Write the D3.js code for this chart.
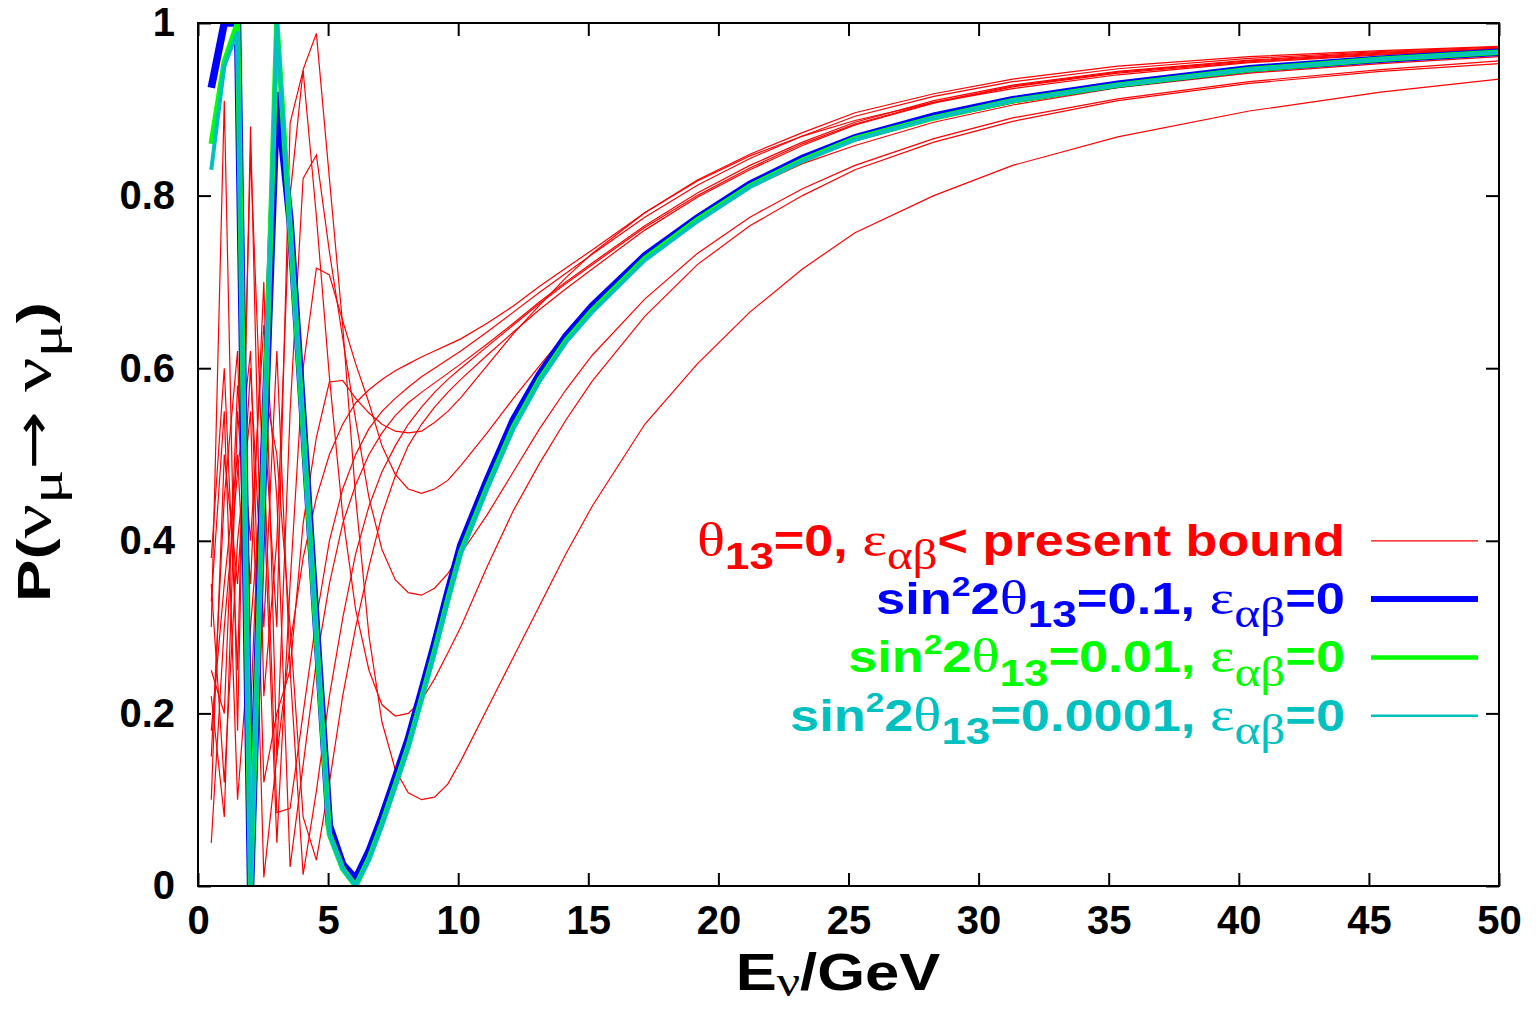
<!DOCTYPE html>
<html>
<head>
<meta charset="utf-8">
<script src="https://cdn.jsdelivr.net/npm/d3@7"></script>
<style>
    body { margin: 0; background: #fff; }
    svg { display: block; }
    text { font-family: "Liberation Sans", Arial, sans-serif; font-weight: bold; white-space: pre; }
    .greek { font-family: "Liberation Serif", "DejaVu Serif", serif; font-weight: normal; }
    .arrow { font-family: "DejaVu Sans", sans-serif; font-weight: normal; }
</style>
</head>
<body>
<div id="chart"></div>
<script>
// neutrino energy grid (GeV) shared by all curves
const energy = [0.51, 1.01, 1.52, 2.02, 2.53, 3.03, 3.54, 4.04, 4.55, 5.05, 5.56, 6.06,
    6.57, 7.07, 7.58, 8.08, 8.59, 9.09, 9.60, 10.10, 11.11, 12.12, 13.13, 14.14, 15.15,
    17.17, 19.19, 21.21, 23.23, 25.25, 28.28, 31.31, 35.35, 40.40, 45.45, 50.00];

// standard oscillation, eps = 0
const theta01 = [0.925, 1.0, 1.0, 0.0, 0.5, 0.92, 0.77, 0.54, 0.30, 0.07, 0.025, 0.008,
    0.04, 0.08, 0.125, 0.17, 0.225, 0.28, 0.34, 0.395, 0.47, 0.54, 0.593, 0.637, 0.672,
    0.73, 0.774, 0.813, 0.843, 0.867, 0.892, 0.911, 0.929, 0.947, 0.958, 0.966];
const theta001 = [0.86, 0.955, 1.0, 0.0, 0.5, 1.0, 0.76, 0.53, 0.29, 0.06, 0.02, 0.0,
    0.032, 0.072, 0.117, 0.162, 0.217, 0.272, 0.332, 0.387, 0.462, 0.532, 0.587, 0.632, 0.667,
    0.727, 0.772, 0.811, 0.841, 0.866, 0.89, 0.91, 0.928, 0.946, 0.958, 0.966];
const theta00001 = [0.83, 0.95, 0.99, 0.0, 0.5, 1.0, 0.76, 0.53, 0.29, 0.06, 0.02, 0.0,
    0.03, 0.07, 0.115, 0.16, 0.215, 0.27, 0.33, 0.385, 0.46, 0.53, 0.585, 0.63, 0.665,
    0.725, 0.77, 0.81, 0.84, 0.865, 0.89, 0.91, 0.928, 0.946, 0.958, 0.966];

// theta13 = 0, eps below present bound (red family)
const nsiA = [0.30, 0.91, 0.18, 0.88, 0.22, 0.40, 0.80, 0.946, 0.988, 0.82, 0.65, 0.45,
    0.29, 0.19, 0.135, 0.108, 0.10, 0.103, 0.118, 0.145, 0.205, 0.265, 0.325, 0.385, 0.44,
    0.535, 0.605, 0.665, 0.715, 0.757, 0.80, 0.835, 0.868, 0.898, 0.92, 0.935];
const nsiB = [0.15, 0.45, 0.62, 0.10, 0.55, 0.30, 0.884, 0.945, 0.776, 0.59, 0.43, 0.32,
    0.25, 0.21, 0.197, 0.20, 0.215, 0.24, 0.27, 0.30, 0.37, 0.435, 0.49, 0.54, 0.585,
    0.66, 0.72, 0.765, 0.80, 0.83, 0.862, 0.886, 0.91, 0.93, 0.944, 0.953];
const nsiC = [0.22, 0.08, 0.55, 0.35, 0.70, 0.15, 0.55, 0.82, 0.847, 0.735, 0.635, 0.54,
    0.45, 0.39, 0.355, 0.34, 0.337, 0.345, 0.362, 0.385, 0.43, 0.48, 0.53, 0.575, 0.615,
    0.68, 0.733, 0.775, 0.808, 0.835, 0.866, 0.89, 0.912, 0.932, 0.946, 0.956];
const nsiD = [0.38, 0.60, 0.25, 0.85, 0.45, 0.05, 0.35, 0.60, 0.716, 0.708, 0.655, 0.605,
    0.56, 0.51, 0.477, 0.46, 0.455, 0.46, 0.47, 0.487, 0.525, 0.565, 0.603, 0.64, 0.673,
    0.73, 0.774, 0.809, 0.837, 0.858, 0.885, 0.905, 0.925, 0.942, 0.953, 0.961];
const nsiE = [0.05, 0.30, 0.48, 0.62, 0.12, 0.20, 0.25, 0.42, 0.52, 0.584, 0.586, 0.565,
    0.548, 0.535, 0.527, 0.525, 0.527, 0.537, 0.55, 0.566, 0.603, 0.64, 0.673, 0.705, 0.733,
    0.78, 0.817, 0.846, 0.869, 0.887, 0.908, 0.924, 0.94, 0.954, 0.963, 0.97];
const nsiF = [0.25, 0.20, 0.58, 0.40, 0.65, 0.45, 0.022, 0.14, 0.26, 0.35, 0.42, 0.465,
    0.50, 0.525, 0.545, 0.56, 0.572, 0.583, 0.594, 0.605, 0.628, 0.652, 0.677, 0.70, 0.722,
    0.765, 0.803, 0.835, 0.862, 0.885, 0.91, 0.928, 0.944, 0.957, 0.966, 0.971];
const nsiG = [0.10, 0.50, 0.35, 0.60, 0.30, 0.62, 0.25, 0.013, 0.11, 0.22, 0.31, 0.385,
    0.44, 0.48, 0.51, 0.535, 0.555, 0.572, 0.587, 0.60, 0.625, 0.65, 0.675, 0.698, 0.72,
    0.763, 0.80, 0.832, 0.86, 0.883, 0.908, 0.927, 0.943, 0.956, 0.965, 0.97];
const nsiH = [0.33, 0.55, 0.10, 0.30, 0.50, 0.085, 0.09, 0.20, 0.31, 0.40, 0.46, 0.50,
    0.53, 0.55, 0.565, 0.578, 0.59, 0.60, 0.61, 0.62, 0.642, 0.665, 0.688, 0.71, 0.732,
    0.775, 0.812, 0.843, 0.869, 0.892, 0.915, 0.932, 0.947, 0.959, 0.967, 0.972];
const nsiI = [0.18, 0.35, 0.50, 0.20, 0.58, 0.50, 0.30, 0.08, 0.03, 0.12, 0.22, 0.30,
    0.37, 0.43, 0.475, 0.51, 0.535, 0.555, 0.572, 0.587, 0.615, 0.642, 0.668, 0.692, 0.715,
    0.76, 0.798, 0.83, 0.858, 0.882, 0.907, 0.926, 0.942, 0.955, 0.964, 0.969];
const nsiJ = [0.35, 0.12, 0.40, 0.55, 0.01, 0.15, 0.28, 0.38, 0.45, 0.50, 0.535, 0.56,
    0.575, 0.587, 0.597, 0.605, 0.613, 0.62, 0.627, 0.634, 0.652, 0.672, 0.695, 0.716, 0.737,
    0.78, 0.818, 0.848, 0.873, 0.896, 0.918, 0.935, 0.95, 0.961, 0.968, 0.973];

const xTicks = [0, 5, 10, 15, 20, 25, 30, 35, 40, 45, 50];
const yTicks = [0, 0.2, 0.4, 0.6, 0.8, 1];

const W = 1540, H = 1009;
let margin = { top: 23, right: 41, bottom: 123, left: 198 },
    width = W - margin.left - margin.right,
    height = H - margin.top - margin.bottom;

let svg = d3.select('#chart').append('svg').attr('width', W).attr('height', H);
let g = svg.append('g').attr('transform', 'translate(' + margin.left + ',' + margin.top + ')');

let x = d3.scaleLinear().domain([0, 50]).range([0, width]);
let y = d3.scaleLinear().domain([0, 1]).range([height, 0]);

svg.append('defs').append('clipPath').attr('id', 'plotclip')
    .append('rect').attr('width', width).attr('height', height);

let line = d3.line().x((d) => x(d[0])).y((d) => y(d[1]));
let toPoints = (vals) => vals.map((v, i) => [energy[i], v]);

const red = '#ff0000', blue = '#0000ff', green = '#00ff00', cyan = '#00c0c0';
let series = [nsiA, nsiB, nsiC, nsiD, nsiE, nsiF, nsiG, nsiH, nsiI, nsiJ]
    .map((vals) => ({ vals: vals, color: red, w: 1.2 }))
    .concat([
        { vals: theta01, color: blue, w: 7.5 },
        { vals: theta001, color: green, w: 5.5 },
        { vals: theta00001, color: cyan, w: 4 }
    ]);

g.append('g').attr('clip-path', 'url(#plotclip)').selectAll('path').data(series).enter()
    .append('path')
    .attr('d', (d) => line(toPoints(d.vals)))
    .attr('fill', 'none')
    .attr('stroke', (d) => d.color)
    .attr('stroke-width', (d) => d.w)
    .attr('stroke-linejoin', 'miter');

// axes, ticks pointing inwards on all four sides
let fontTick = 40;
let xAxis = d3.axisBottom(x).tickValues(xTicks).tickSizeInner(-13).tickSizeOuter(0).tickPadding(20);
let yAxis = d3.axisLeft(y).tickValues(yTicks).tickSizeInner(-13).tickSizeOuter(0).tickPadding(23)
    .tickFormat((d) => d);
let gx = g.append('g').attr('transform', 'translate(0,' + height + ')').call(xAxis);
let gy = g.append('g').call(yAxis);
g.append('g').call(d3.axisTop(x).tickValues(xTicks).tickSizeInner(-13).tickSizeOuter(0).tickFormat(''));
g.append('g').attr('transform', 'translate(' + width + ',0)')
    .call(d3.axisRight(y).tickValues(yTicks).tickSizeInner(-13).tickSizeOuter(0).tickFormat(''));
g.selectAll('.domain').remove();
g.selectAll('.tick line').attr('stroke', '#000').attr('stroke-width', 2);
[gx, gy].forEach((ax) => {
    ax.attr('font-family', null).attr('font-size', null);
    ax.selectAll('text').attr('font-size', fontTick).attr('fill', '#000');
});

g.append('rect').attr('width', width).attr('height', height)
    .attr('fill', 'none').attr('stroke', '#000').attr('stroke-width', 2);

// rich text: parts of [string, kind]; kind: '' normal, 'g' greek, 'sub', 'gsub', 'sup', 'arrow'
function richText(sel, parts, size, opts) {
    opts = opts || {};
    let subDy = opts.subDy || 0.3, greekScale = opts.greekScale || 1;
    let subGreek = opts.subGreek || greekScale;
    let shift = 0;
    parts.forEach((p) => {
        let kind = p[1] || '';
        let s = size, target = 0;
        if (kind === 'g') s = size * greekScale;
        if (kind === 'arrow') s = size * 1.1;
        if (kind === 'sub') { s = size * 0.84; target = size * subDy; }
        if (kind === 'gsub') { s = size * 0.84 * subGreek; target = size * subDy; }
        if (kind === 'sup') { s = size * 0.64; target = -size * 0.42; }
        let t = sel.append('tspan').text(p[0]).attr('font-size', s).attr('dy', target - shift);
        if (kind === 'g' || kind === 'gsub') t.attr('class', 'greek');
        if (kind === 'arrow') t.attr('class', 'arrow');
        shift = target;
    });
}

// stretch a text along its own direction so it covers a given length
function stretchTo(sel, base, len) {
    let w = sel.node().getBBox().width;
    sel.attr('transform', base + ' scale(' + (len / w) + ',1)');
}

// legend
let legendRows = [
    { color: red, w: 1.2, left: 697, parts: [['θ', 'g'], ['13', 'sub'], ['=0, '], ['ε', 'g'], ['αβ', 'gsub'], ['< present bound']] },
    { color: blue, w: 6, left: 876, parts: [['sin'], ['2', 'sup'], ['2'], ['θ', 'g'], ['13', 'sub'], ['=0.1, '], ['ε', 'g'], ['αβ', 'gsub'], ['=0']] },
    { color: green, w: 4.5, left: 848, parts: [['sin'], ['2', 'sup'], ['2'], ['θ', 'g'], ['13', 'sub'], ['=0.01, '], ['ε', 'g'], ['αβ', 'gsub'], ['=0']] },
    { color: cyan, w: 2.5, left: 790, parts: [['sin'], ['2', 'sup'], ['2'], ['θ', 'g'], ['13', 'sub'], ['=0.0001, '], ['ε', 'g'], ['αβ', 'gsub'], ['=0']] }
];
let legendRight = 1345, legendTop = y(0.4) + margin.top, legendStep = 58.3;
let legend = svg.append('g');
legendRows.forEach((row, i) => {
    let cy = legendTop + i * legendStep;
    let txt = legend.append('text').attr('x', 0).attr('y', 0)
        .attr('text-anchor', 'end').attr('fill', row.color);
    richText(txt, row.parts, 44, { greekScale: 1.12 });
    stretchTo(txt, 'translate(' + legendRight + ',' + (cy + 15) + ')', legendRight - row.left);
    legend.append('line').attr('x1', 1371).attr('x2', 1478).attr('y1', cy).attr('y2', cy)
        .attr('stroke', row.color).attr('stroke-width', row.w);
});

// axis titles
let xl = svg.append('text').attr('x', 0).attr('y', 0)
    .attr('text-anchor', 'middle').attr('fill', '#000');
richText(xl, [['E'], ['ν', 'gsub'], ['/GeV']], 52, { subDy: 0.12, greekScale: 1.15, subGreek: 1.0 });
stretchTo(xl, 'translate(838,990)', 205);

let yl = svg.append('text').attr('x', 0).attr('y', 0)
    .attr('text-anchor', 'middle').attr('fill', '#000');
richText(yl, [['P('], ['ν', 'g'], ['μ', 'gsub'], ['→', 'arrow'], [' ', 'g'], ['ν', 'g'], ['μ', 'gsub'], [')']], 46,
    { subDy: 0.25, greekScale: 1.2 });
stretchTo(yl, 'translate(50,452) rotate(-90)', 300);
</script>
</body>
</html>
